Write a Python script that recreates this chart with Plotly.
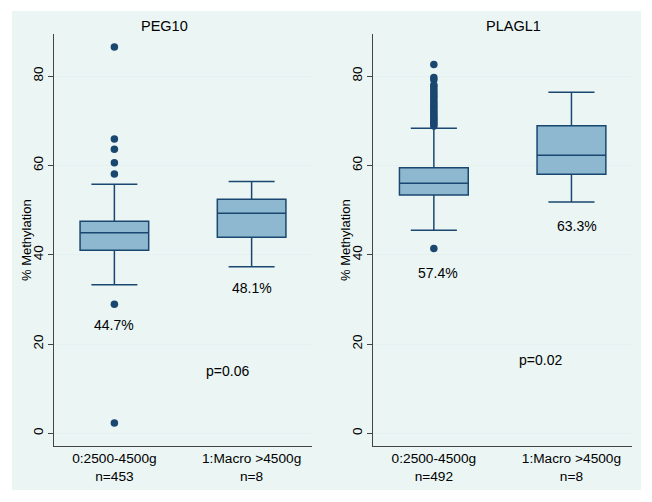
import plotly.graph_objects as go

# ---------------- data ----------------
panels = ["PEG10", "PLAGL1"]
categories = ["0:2500-4500g", "1:Macro >4500g"]
n_peg10 = ["n=453", "n=8"]
n_plagl1 = ["n=492", "n=8"]

# PEG10 box stats [normal, macro]
peg_q1 = [41.0, 43.9]
peg_med = [44.9, 49.3]
peg_q3 = [47.5, 52.4]
peg_lo = [33.3, 37.3]
peg_hi = [55.8, 56.4]
peg_out = [86.5, 65.9, 63.6, 60.6, 58.1, 28.9, 2.3]

# PLAGL1 box stats [normal, macro]
pla_q1 = [53.4, 58.0]
pla_med = [56.0, 62.3]
pla_q3 = [59.5, 68.9]
pla_lo = [45.5, 51.8]
pla_hi = [68.3, 76.4]
pla_out = [82.6, 79.7, 79.2, 78.0, 77.6, 77.0, 76.5, 76.0, 75.5, 75.0, 74.4,
           74.0, 73.5, 73.0, 72.5, 72.0, 71.6, 71.2, 70.8, 70.4, 70.0, 69.6,
           69.2, 68.8, 41.4]

peg_means = ["44.7%", "48.1%"]
pla_means = ["57.4%", "63.3%"]
peg_p = "p=0.06"
pla_p = "p=0.02"

y_ticks = [0, 20, 40, 60, 80]

# ---------------- style ----------------
OFF = 8                      # browser body margin
W, H = 652 - 2 * OFF, 502 - 2 * OFF
NAVY = "#1a476f"
FILL = "#8db8cf"
BG = "#eaf5f4"
FONT = "Liberation Sans, Arial, sans-serif"


def px(x):
    return (x - OFF) / W


def py(y):
    return 1 - (y - OFF) / H


fig = go.Figure()


def add_panel(ax, q1, med, q3, lo, hi, out):
    xa = "x" if ax == 1 else "x2"
    ya = "y" if ax == 1 else "y2"
    fig.add_trace(go.Box(
        x=[0, 1], q1=q1, median=med, q3=q3, lowerfence=lo, upperfence=hi,
        width=0.5, whiskerwidth=0.67, fillcolor=FILL,
        line=dict(color=NAVY, width=1.5), boxpoints=False,
        xaxis=xa, yaxis=ya, showlegend=False, hoverinfo="skip"))
    fig.add_trace(go.Scatter(
        x=[0] * len(out), y=out, mode="markers",
        marker=dict(color=NAVY, size=7.5), xaxis=xa, yaxis=ya,
        showlegend=False, hoverinfo="skip"))


add_panel(1, peg_q1, peg_med, peg_q3, peg_lo, peg_hi, peg_out)
add_panel(2, pla_q1, pla_med, pla_q3, pla_lo, pla_hi, pla_out)

yrange = [-2.84, 89.43]
ydom = [py(446), py(34)]


def yaxis_cfg():
    return dict(range=yrange, domain=ydom, tickvals=y_ticks, tickangle=-90,
                ticks="outside", ticklen=5, tickcolor="#444", showline=True,
                linecolor="#444", linewidth=1, showgrid=True,
                gridcolor="#e6f0f0", gridwidth=1, zeroline=False,
                tickfont=dict(size=13.5, color="black", family=FONT))


def xaxis_cfg(dom, nlabels, anchor):
    return dict(range=[-0.44, 1.44], domain=dom, tickvals=[0, 1],
                ticktext=[f"{c}<br>{n}" for c, n in zip(categories, nlabels)],
                ticks="", showline=True, linecolor="#444", linewidth=1,
                showgrid=False, zeroline=False, anchor=anchor,
                tickfont=dict(size=13.7, color="black", family=FONT))


fig.update_layout(
    width=W, height=H,
    margin=dict(l=0, r=0, t=0, b=0),
    paper_bgcolor="white", plot_bgcolor="white",
    font=dict(family=FONT, color="black"),
    xaxis=xaxis_cfg([px(54), px(312)], n_peg10, "y"),
    yaxis=dict(**yaxis_cfg(), anchor="x"),
    xaxis2=xaxis_cfg([px(373.3), px(632)], n_plagl1, "y2"),
    yaxis2=dict(**yaxis_cfg(), anchor="x2"),
    shapes=[dict(type="rect", xref="paper", yref="paper", layer="below",
                 x0=px(12), x1=px(641), y0=py(490), y1=py(11),
                 fillcolor=BG, line=dict(width=0))],
)

anns = []
for title, cx in zip(panels, [164, 513]):
    anns.append(dict(text=title, xref="paper", yref="paper", x=px(cx),
                     y=py(26), showarrow=False, xanchor="center",
                     yanchor="middle", font=dict(size=14.5, family=FONT)))

for ax_x in [26, 345]:
    anns.append(dict(text="% Methylation", xref="paper", yref="paper",
                     x=px(ax_x), y=py(240), showarrow=False, textangle=-90,
                     xanchor="center", yanchor="middle",
                     font=dict(size=13, family=FONT)))

for (xr, yr), means, mpos, ptxt, ppos in [
        (("x", "y"), peg_means, [(0, 24.3), (1.0, 32.6)], peg_p, (0.825, 14.0)),
        (("x2", "y2"), pla_means, [(0.03, 36.0), (1.04, 46.5)], pla_p, (0.775, 16.4))]:
    for m, (mx, my) in zip(means, mpos):
        anns.append(dict(text=m, xref=xr, yref=yr, x=mx, y=my, showarrow=False,
                         font=dict(size=14, family=FONT)))
    anns.append(dict(text=ptxt, xref=xr, yref=yr, x=ppos[0], y=ppos[1],
                     showarrow=False, font=dict(size=14, family=FONT)))

fig.update_layout(annotations=anns)
fig.write_html("out.html")
